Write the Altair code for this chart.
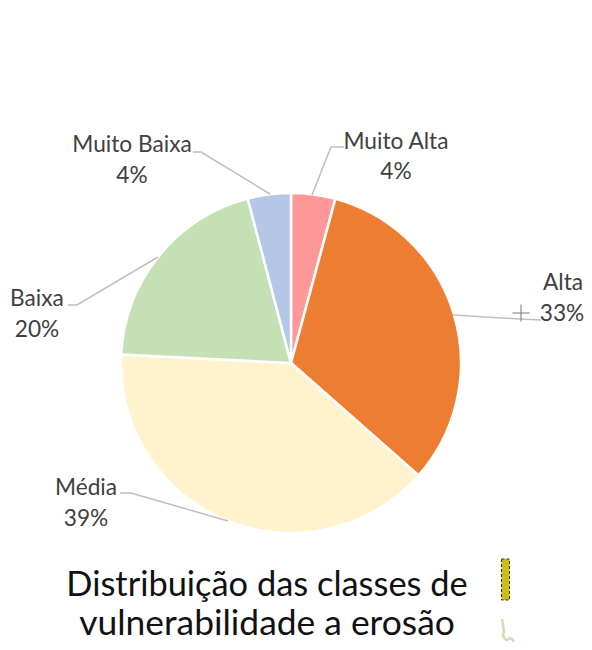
import altair as alt
import pandas as pd

# Slice data
classes = ["Muito Alta", "Alta", "Média", "Baixa", "Muito Baixa"]
shares = [4.2, 32.3, 39.3, 20.1, 4.1]
colors = ["#FF9999", "#ED7D31", "#FFF2CC", "#C5E0B4", "#B4C7E7"]
order = [0, 1, 2, 3, 4]

# Label text and placement (page pixels)
label_text = ["Muito Alta", "4%", "Alta", "33%", "Média", "39%", "Baixa", "20%", "Muito Baixa", "4%"]
label_x = [396, 396, 563, 562, 86, 86, 37, 37, 132, 132]
label_y = [142, 172, 283, 314, 488, 519, 299, 330, 145, 176]

title_text = ["Distribuição das classes de", "vulnerabilidade a erosão"]
title_x = [267, 267]
title_y = [586, 624]

# Leader lines (page pixels)
lead_id = [0, 0, 0, 1, 1, 1, 2, 2, 2, 3, 3, 3, 4, 4, 4]
lead_x = [344, 331, 312, 453, 520, 541, 120, 131, 228, 68, 77, 158, 193, 201, 270]
lead_y = [147, 147, 195, 315, 319, 320, 493, 493, 521, 305, 305, 257, 152, 152, 194]

# Stray artefacts at the lower right
squig_x = [502, 503, 504, 503, 505, 507, 510, 513, 514, 514]
squig_y = [619, 625, 631, 636, 639, 640, 638, 640, 645, 650]
block_x = [501.5]
block_x2 = [509.5]
block_y = [559]
block_y2 = [600]

W, H = 576, 634
OX, OY = 8, 8
CX, CY, R = 291, 363, 170

xs = alt.Scale(domain=[0, W], range=[0, W])
ys = alt.Scale(domain=[0, H], range=[0, H])
X = lambda f: alt.X(f, type="quantitative", scale=xs, axis=None)
Y = lambda f: alt.Y(f, type="quantitative", scale=ys, axis=None)

slices = pd.DataFrame({"c": classes, "v": shares, "o": order})
pie = alt.Chart(slices).mark_arc(outerRadius=R, stroke="white", strokeWidth=2.5).encode(
    theta=alt.Theta("v:Q", stack=True),
    order=alt.Order("o:Q"),
    color=alt.Color("c:N", scale=alt.Scale(domain=classes, range=colors), legend=None),
    x=alt.value(CX - OX),
    y=alt.value(CY - OY),
)

leads = pd.DataFrame({"i": lead_id, "x": [a - OX for a in lead_x], "y": [a - OY for a in lead_y],
                      "s": list(range(len(lead_id)))})
lines = alt.Chart(leads).mark_line(color="#BFBFBF", strokeWidth=1.5).encode(
    x=X("x"), y=Y("y"), detail="i:N", order="s:Q")

labels_df = pd.DataFrame({"t": label_text, "x": [a - OX for a in label_x], "y": [a - OY for a in label_y]})
labels = alt.Chart(labels_df).mark_text(font="Lato", fontSize=22.7, color="#404040", baseline="middle").encode(
    x=X("x"), y=Y("y"), text="t:N")

title_df = pd.DataFrame({"t": title_text, "x": [a - OX for a in title_x], "y": [a - OY for a in title_y]})
title_1 = alt.Chart(title_df.iloc[[0]]).mark_text(font="Lato", fontSize=34.4, color="#111111", baseline="middle").encode(
    x=X("x"), y=Y("y"), text="t:N")
title_2 = alt.Chart(title_df.iloc[[1]]).mark_text(font="Lato", fontSize=35.4, color="#111111", baseline="middle").encode(
    x=X("x"), y=Y("y"), text="t:N")

cross_df = pd.DataFrame({"x": [521 - OX], "y": [313 - OY]})
cross = alt.Chart(cross_df).mark_point(shape="M-1,0L1,0M0,-1L0,1", size=289, color="#777777",
                                       strokeWidth=1, filled=False, opacity=1).encode(
    x=X("x"), y=Y("y"))

block_df = pd.DataFrame({"x": [a - OX for a in block_x], "x2": [a - OX for a in block_x2],
                         "y": [a - OY for a in block_y], "y2": [a - OY for a in block_y2]})
block = alt.Chart(block_df).mark_rect(color="#C9BE1E", stroke="#3A3410", strokeWidth=1, strokeDash=[3, 2]).encode(
    x=X("x"), x2="x2:Q", y=Y("y"), y2="y2:Q")

squig_df = pd.DataFrame({"x": [a - OX for a in squig_x], "y": [a - OY for a in squig_y], "s": list(range(len(squig_x)))})
squig = alt.Chart(squig_df).mark_line(color="#D5DCB5", strokeWidth=2.5).encode(
    x=X("x"), y=Y("y"), order="s:Q")

chart = alt.layer(pie, lines, labels, title_1, title_2, cross, block, squig).properties(
    width=W, height=H, padding=0, autosize=alt.AutoSizeParams(type="none"), background="white"
).configure_view(stroke=None)

chart.save("out.html", embed_options={"renderer": "svg", "actions": False})
